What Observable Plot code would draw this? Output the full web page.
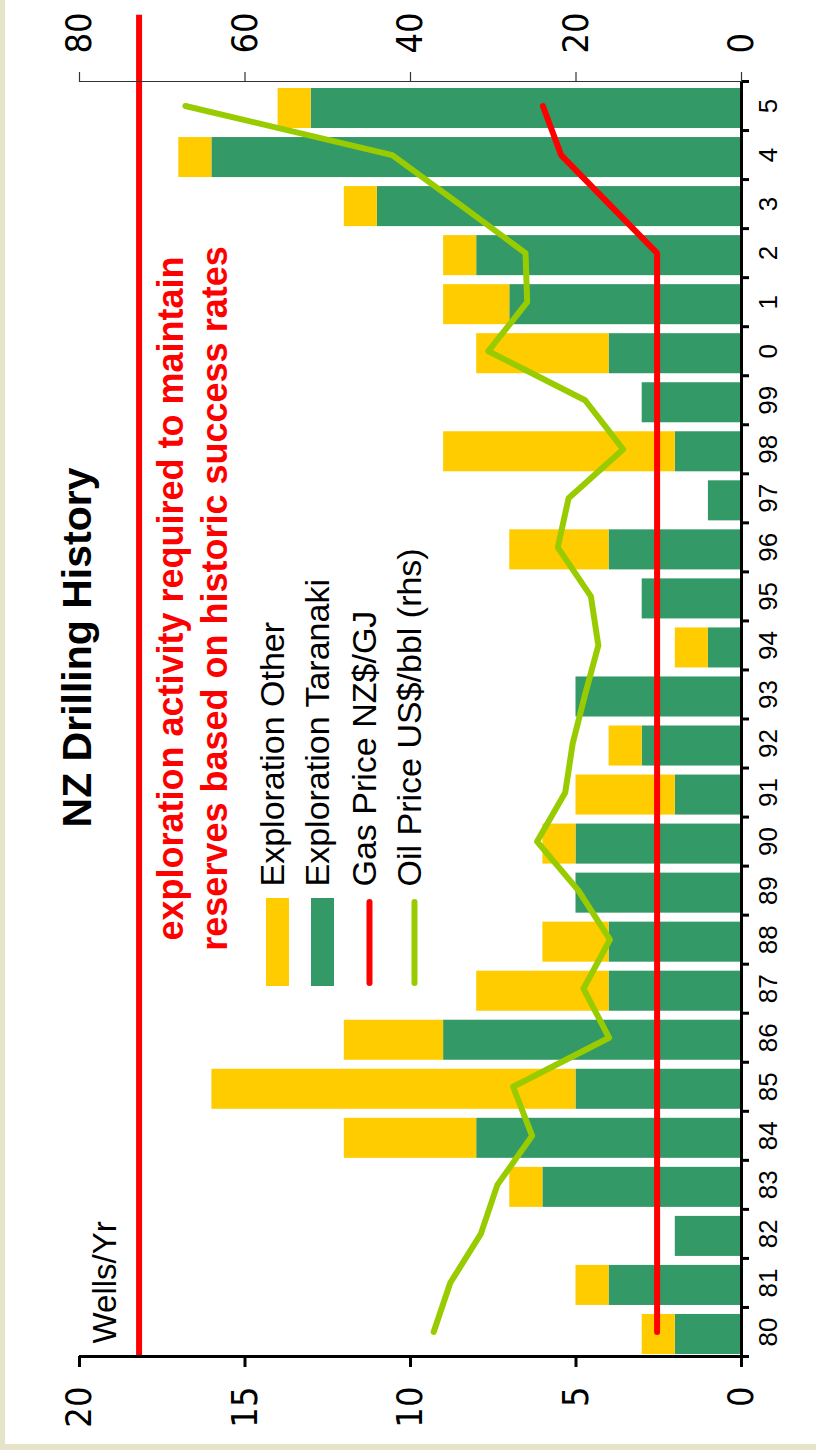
<!DOCTYPE html>
<html><head><meta charset="utf-8">
<script src="https://cdn.jsdelivr.net/npm/d3@7"></script>
<script src="https://cdn.jsdelivr.net/npm/@observablehq/plot@0.6"></script>
<style>
html,body{margin:0;padding:0;background:#e5e3c8;}
#page{position:relative;width:816px;height:1450px;overflow:hidden;}
#white{position:absolute;left:5px;top:0;width:811px;height:1444px;background:#fff;}
#chart{position:absolute;left:0;top:0;}
</style></head><body>
<div id="page"><div id="white"></div><div id="chart"></div></div>
<script>
// ---- data ----
const years = [1980,1981,1982,1983,1984,1985,1986,1987,1988,1989,1990,1991,1992,1993,1994,1995,1996,1997,1998,1999,2000,2001,2002,2003,2004,2005];
const yearLabels = ["80","81","82","83","84","85","86","87","88","89","90","91","92","93","94","95","96","97","98","99","0","1","2","3","4","5"];
const taranaki = [2,4,2,6,8,5,9,4,4,5,5,2,3,5,1,3,4,1,2,3,4,7,8,11,16,13];
const other    = [1,1,0,1,4,11,3,4,2,0,1,3,1,0,1,0,3,0,7,0,4,2,1,1,1,1];
const gasPrice = [2.55,2.55,2.55,2.55,2.55,2.55,2.55,2.55,2.55,2.55,2.55,2.55,2.55,2.55,2.55,2.55,2.55,2.55,2.55,2.55,2.55,2.55,2.55,4.0,5.45,6.0];
const oilPrice = [37.2,35.2,31.5,29.5,25.3,27.6,16.0,19.1,15.9,19.7,24.7,21.3,20.4,18.9,17.3,18.2,22.2,20.9,14.3,18.9,30.6,25.9,26.1,34.1,42.2,67.2];
const requiredWells = 18.2;
const requiredSpan = [1980, 2007.35];
const wellsTicks = [0,5,10,15,20];
const oilTicks = [0,20,40,60,80];
const seriesNames = ["Exploration Other","Exploration Taranaki","Gas Price NZ$/GJ","Oil Price US$/bbl (rhs)"];
const seriesColors = ["#ffcc00","#339966","#ff0000","#99cc00"];
const title = "NZ Drilling History";
const annotation = ["exploration activity required to maintain","reserves based on historic success rates"];
const yLabel = "Wells/Yr";

// ---- derived tables ----
const oilToWells = 20 / 80; // rhs axis 0-80 shares the lhs 0-20 range
const bars = years.flatMap((y, i) => [
  {year: y, series: seriesNames[1], value: taranaki[i]},
  {year: y, series: seriesNames[0], value: other[i]}
]);
const prices = years.map((y, i) => ({year: y, gas: gasPrice[i], oil: oilPrice[i]}));

// pixel helpers for annotations/legend placement (page coordinates -> data units)
const W = px => (741 - px) / 33.1;
const Y = py => 1980 + (1356 - py) / (1275 / 26);

const FONT = "'Liberation Sans', Arial, Helvetica, sans-serif";
const NARROW = "'Liberation Sans Narrow', 'Arial Narrow', 'DejaVu Sans Condensed', 'Liberation Sans', Arial, sans-serif";

const legendItems = seriesNames.map((name, i) => ({name, color: seriesColors[i], cx: [277.5, 322.5, 369, 414][i], bar: i < 2}));

const chart = Plot.plot({
  width: 816, height: 1444,
  marginLeft: 79, marginRight: 75, marginTop: 81, marginBottom: 88,
  x: {domain: [0, 20], reverse: true, label: null},
  y: {domain: [1980, 2006], label: null},
  color: {domain: seriesNames.slice(0, 2), range: seriesColors.slice(0, 2)},
  style: {background: "transparent", fontFamily: FONT, overflow: "visible"},
  marks: [
    Plot.rectX(bars, {x: "value", y: "year", interval: 1, fill: "series", insetTop: 7, insetBottom: 2}),
    Plot.ruleX([requiredWells], {y1: requiredSpan[0], y2: requiredSpan[1], stroke: seriesColors[2], strokeWidth: 6}),
    Plot.line(prices, {x: "gas", y: d => d.year + 0.5, stroke: seriesColors[2], strokeWidth: 6, strokeLinecap: "round", strokeLinejoin: "round"}),
    Plot.line(prices, {x: d => d.oil * oilToWells, y: d => d.year + 0.5, stroke: seriesColors[3], strokeWidth: 6, strokeLinecap: "round", strokeLinejoin: "round"}),
    // axis lines
    Plot.ruleY([1980], {stroke: "#000", strokeWidth: 3}),
    Plot.ruleX([0], {stroke: "#000", strokeWidth: 3}),
    Plot.ruleY([2006], {stroke: "#333", strokeWidth: 1.2}),
    // lhs wells axis (bottom)
    Plot.axisX(wellsTicks, {anchor: "bottom", label: null, tickSize: 11, tickPadding: 19, tickRotate: -90, textAnchor: "end", lineAnchor: "middle", strokeWidth: 3, stroke: "#000", fill: "#000", fontSize: 36, fontFamily: NARROW}),
    // rhs oil axis (top)
    Plot.axisX(oilTicks.map(v => v * oilToWells), {anchor: "top", label: null, tickSize: 10, tickPadding: 18, tickRotate: -90, textAnchor: "start", lineAnchor: "middle", tickFormat: w => String(Math.round(w / oilToWells)), strokeWidth: 1.2, stroke: "#333", fill: "#000", fontSize: 36, fontFamily: NARROW}),
    // year axis: boundary ticks
    Plot.axisY(d3.range(1980, 2007), {anchor: "right", label: null, tickSize: 7, strokeWidth: 3, stroke: "#000", tickFormat: () => ""}),
    // year axis: labels at band centres
    Plot.axisY(years.map(y => y + 0.5), {anchor: "right", label: null, tickSize: 0, tickPadding: 17, tickRotate: -90, textAnchor: "middle", lineAnchor: "top", tickFormat: d => yearLabels[years.indexOf(Math.round(d - 0.5))], fill: "#000", fontSize: 26}),
    // title
    Plot.text([title], {x: W(77), y: Y(647), rotate: -90, fontSize: 41, fontWeight: "bold", fill: "#000"}),
    // y label
    Plot.text([yLabel], {x: W(105), y: Y(1343), rotate: -90, textAnchor: "start", fontSize: 33, fill: "#000"}),
    // red annotation
    Plot.text(annotation, {x: (d, i) => W([171, 215][i]), y: Y(598), rotate: -90, fontSize: 36, fontWeight: "bold", fill: seriesColors[2], ariaLabel: "annotation"}),
    // legend
    Plot.rect(legendItems.filter(d => d.bar), {x1: d => W(d.cx - 11.5), x2: d => W(d.cx + 11.5), y1: Y(986), y2: Y(898), fill: "color"}),
    Plot.ruleX(legendItems.filter(d => !d.bar), {x: d => W(d.cx), y1: Y(983), y2: Y(902), stroke: "color", strokeWidth: 6, strokeLinecap: "round"}),
    Plot.text(legendItems, {x: d => W(d.cx - 4.5), y: Y(886), text: "name", rotate: -90, textAnchor: "start", fontSize: 34, fill: "#000"})
  ]
});
d3.select(chart).selectAll('g[aria-label="annotation"] text').attr("letter-spacing", "0.8px");
document.getElementById("chart").appendChild(chart);
</script>
</body></html>
